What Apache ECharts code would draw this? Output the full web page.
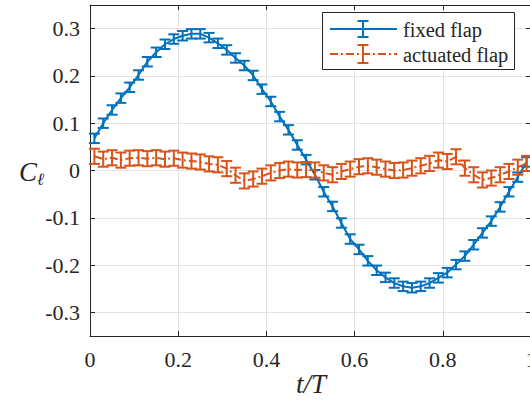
<!DOCTYPE html>
<html>
<head>
<meta charset="utf-8">
<script src="https://cdn.jsdelivr.net/npm/echarts@6/dist/echarts.min.js"></script>
<style>html,body{margin:0;padding:0;background:#fff}#c{width:530px;height:402px}</style>
</head>
<body>
<div id="c"></div>
<script>
const tValues = [0.01,0.03,0.05,0.07,0.09,0.11,0.13,0.15,0.17,0.19,0.21,0.23,0.25,0.27,0.29,0.31,0.33,0.35,0.37,0.39,0.41,0.43,0.45,0.47,0.49,0.51,0.53,0.55,0.57,0.59,0.61,0.63,0.65,0.67,0.69,0.71,0.73,0.75,0.77,0.79,0.81,0.83,0.85,0.87,0.89,0.91,0.93,0.95,0.97,0.99];
const fixedFlap = [0.068,0.100,0.128,0.153,0.176,0.202,0.230,0.250,0.267,0.278,0.285,0.289,0.289,0.281,0.269,0.255,0.238,0.222,0.201,0.172,0.146,0.114,0.086,0.054,0.023,-0.009,-0.045,-0.076,-0.111,-0.145,-0.167,-0.191,-0.211,-0.226,-0.238,-0.245,-0.248,-0.245,-0.238,-0.227,-0.216,-0.199,-0.181,-0.157,-0.132,-0.107,-0.077,-0.045,-0.014,0.018];
const fixedErr = [0.010,0.010,0.010,0.010,0.010,0.010,0.010,0.010,0.010,0.010,0.010,0.010,0.010,0.010,0.010,0.010,0.010,0.010,0.010,0.010,0.010,0.010,0.010,0.010,0.010,0.010,0.010,0.010,0.010,0.010,0.010,0.010,0.010,0.010,0.010,0.010,0.010,0.010,0.010,0.010,0.010,0.010,0.010,0.010,0.010,0.010,0.010,0.010,0.010,0.010];
const actuatedFlap = [0.030,0.024,0.027,0.022,0.026,0.027,0.025,0.027,0.024,0.026,0.022,0.020,0.018,0.014,0.012,0.004,-0.010,-0.022,-0.018,-0.012,-0.005,0.000,0.003,0.001,0.002,0.001,-0.005,-0.009,-0.002,0.003,0.008,0.010,0.007,0.003,0.000,0.001,0.005,0.010,0.015,0.022,0.019,0.029,0.005,-0.009,-0.020,-0.016,-0.009,-0.002,0.007,0.015];
const actuatedErr = [0.016,0.016,0.016,0.016,0.016,0.016,0.016,0.016,0.016,0.016,0.016,0.016,0.016,0.016,0.016,0.016,0.016,0.016,0.016,0.016,0.016,0.016,0.016,0.016,0.016,0.016,0.016,0.016,0.016,0.016,0.016,0.016,0.016,0.016,0.016,0.016,0.016,0.016,0.016,0.016,0.016,0.016,0.016,0.016,0.016,0.016,0.016,0.016,0.016,0.016];
const yTicks = [-0.3,-0.2,-0.1,0,0.1,0.2,0.3];
const seriesNames = ['fixed flap','actuated flap'];

const BLUE = '#0072BD', ORANGE = '#D95319', AXIS = '#262626', GRID = '#e3e3e3';
const FONT = "Liberation Serif";

function lineData(vals){ return tValues.map((t,i)=>[t, vals[i]]); }
function errData(vals, errs){ return tValues.map((t,i)=>[t, vals[i]-errs[i], vals[i]+errs[i]]); }
function errRender(color){
  return function(params, api){
    const x = api.value(0);
    const pLo = api.coord([x, api.value(1)]);
    const pHi = api.coord([x, api.value(2)]);
    const hw = 5.5;
    const style = {stroke: color, lineWidth: 2, fill: null};
    return {type:'group', children:[
      {type:'line', shape:{x1:pLo[0],y1:pLo[1],x2:pHi[0],y2:pHi[1]}, style},
      {type:'line', shape:{x1:pLo[0]-hw,y1:pLo[1],x2:pLo[0]+hw,y2:pLo[1]}, style},
      {type:'line', shape:{x1:pHi[0]-hw,y1:pHi[1],x2:pHi[0]+hw,y2:pHi[1]}, style}
    ]};
  };
}
function tickFmt(v){ return String(+(+v).toFixed(1)); }

const chart = echarts.init(document.getElementById('c'), null, {renderer:'svg'});
const axisLine = {show:true, onZero:false, lineStyle:{color:AXIS, width:1}};
const labelStyle = {color:AXIS, fontFamily:FONT, fontSize:22, fontWeight:'normal'};
chart.setOption({
  animation:false,
  backgroundColor:'#fff',
  textStyle:{fontFamily:FONT, color:AXIS},
  grid:{left:90, right:-1, top:5, bottom:66, containLabel:false, outerBoundsMode:'none'},
  xAxis:[
    {type:'value', min:0, max:1, interval:0.2, position:'bottom', axisLine,
      axisTick:{show:true, inside:true, length:5, lineStyle:{color:AXIS, width:1}},
      axisLabel:Object.assign({margin:12, hideOverlap:false, formatter:tickFmt}, labelStyle),
      splitLine:{show:true, lineStyle:{color:GRID, width:1}}},
    {type:'value', min:0, max:1, interval:0.2, position:'top', axisLine,
      axisTick:{show:true, inside:true, length:5, lineStyle:{color:AXIS, width:1}},
      axisLabel:{show:false}, splitLine:{show:false}}
  ],
  yAxis:[
    {type:'value', min:-0.35, max:0.35, position:'left', axisLine,
      axisTick:{show:true, inside:true, length:5, customValues:yTicks, lineStyle:{color:AXIS, width:1}},
      axisLabel:Object.assign({margin:10, customValues:yTicks, formatter:tickFmt}, labelStyle),
      splitLine:{show:true, lineStyle:{color:GRID, width:1}}},
    {type:'value', min:-0.35, max:0.35, position:'right', axisLine,
      axisTick:{show:true, inside:true, length:5, customValues:yTicks, lineStyle:{color:AXIS, width:1}},
      axisLabel:{show:false}, splitLine:{show:false}}
  ],
  series:[
    {name:seriesNames[0], type:'line', data:lineData(fixedFlap), symbol:'none', z:3,
      lineStyle:{color:BLUE, width:2}},
    {name:seriesNames[0]+' err', type:'custom', data:errData(fixedFlap, fixedErr), z:3,
      encode:{x:0, y:[1,2]}, renderItem:errRender(BLUE)},
    {name:seriesNames[1], type:'line', data:lineData(actuatedFlap), symbol:'none', z:4,
      lineStyle:{color:ORANGE, width:2, type:[8,3,2,3]}},
    {name:seriesNames[1]+' err', type:'custom', data:errData(actuatedFlap, actuatedErr), z:4,
      encode:{x:0, y:[1,2]}, renderItem:errRender(ORANGE)}
  ],
  graphic:[
    {type:'rect', z:100, shape:{x:322.5, y:12.5, width:192, height:57},
      style:{fill:'#fff', stroke:AXIS, lineWidth:1}},
    {type:'line', z:101, shape:{x1:330, y1:29, x2:397, y2:29}, style:{stroke:BLUE, lineWidth:2}},
    {type:'line', z:101, shape:{x1:363, y1:21, x2:363, y2:37}, style:{stroke:BLUE, lineWidth:2}},
    {type:'line', z:101, shape:{x1:357.5, y1:21, x2:368.5, y2:21}, style:{stroke:BLUE, lineWidth:2}},
    {type:'line', z:101, shape:{x1:357.5, y1:37, x2:368.5, y2:37}, style:{stroke:BLUE, lineWidth:2}},
    {type:'text', z:101, style:{text:seriesNames[0], x:403, y:30, fill:AXIS, fontFamily:FONT, fontSize:20.5, verticalAlign:'middle', align:'left'}},
    {type:'line', z:101, shape:{x1:330, y1:54, x2:397, y2:54}, style:{stroke:ORANGE, lineWidth:2, lineDash:[8,3,2,3]}},
    {type:'line', z:101, shape:{x1:363, y1:45, x2:363, y2:63}, style:{stroke:ORANGE, lineWidth:2}},
    {type:'line', z:101, shape:{x1:357.5, y1:45, x2:368.5, y2:45}, style:{stroke:ORANGE, lineWidth:2}},
    {type:'line', z:101, shape:{x1:357.5, y1:63, x2:368.5, y2:63}, style:{stroke:ORANGE, lineWidth:2}},
    {type:'text', z:101, style:{text:seriesNames[1], x:403, y:55, fill:AXIS, fontFamily:FONT, fontSize:20.5, verticalAlign:'middle', align:'left'}},
    {type:'text', z:101, style:{text:'t/T', x:311, y:384, fill:AXIS, fontFamily:FONT, fontStyle:'italic', fontSize:27, align:'center', verticalAlign:'middle'}},
    {type:'text', z:101, style:{
      text:'{c|C}{s|ℓ}', x:19, y:172, align:'left', verticalAlign:'middle',
      rich:{c:{fontFamily:FONT, fontStyle:'italic', fontSize:27, fill:AXIS, verticalAlign:'middle'},
            s:{fontFamily:FONT, fontStyle:'italic', fontSize:17, fill:AXIS, padding:[14,0,0,0], verticalAlign:'bottom'}}}}
  ]
});
</script>
</body>
</html>
